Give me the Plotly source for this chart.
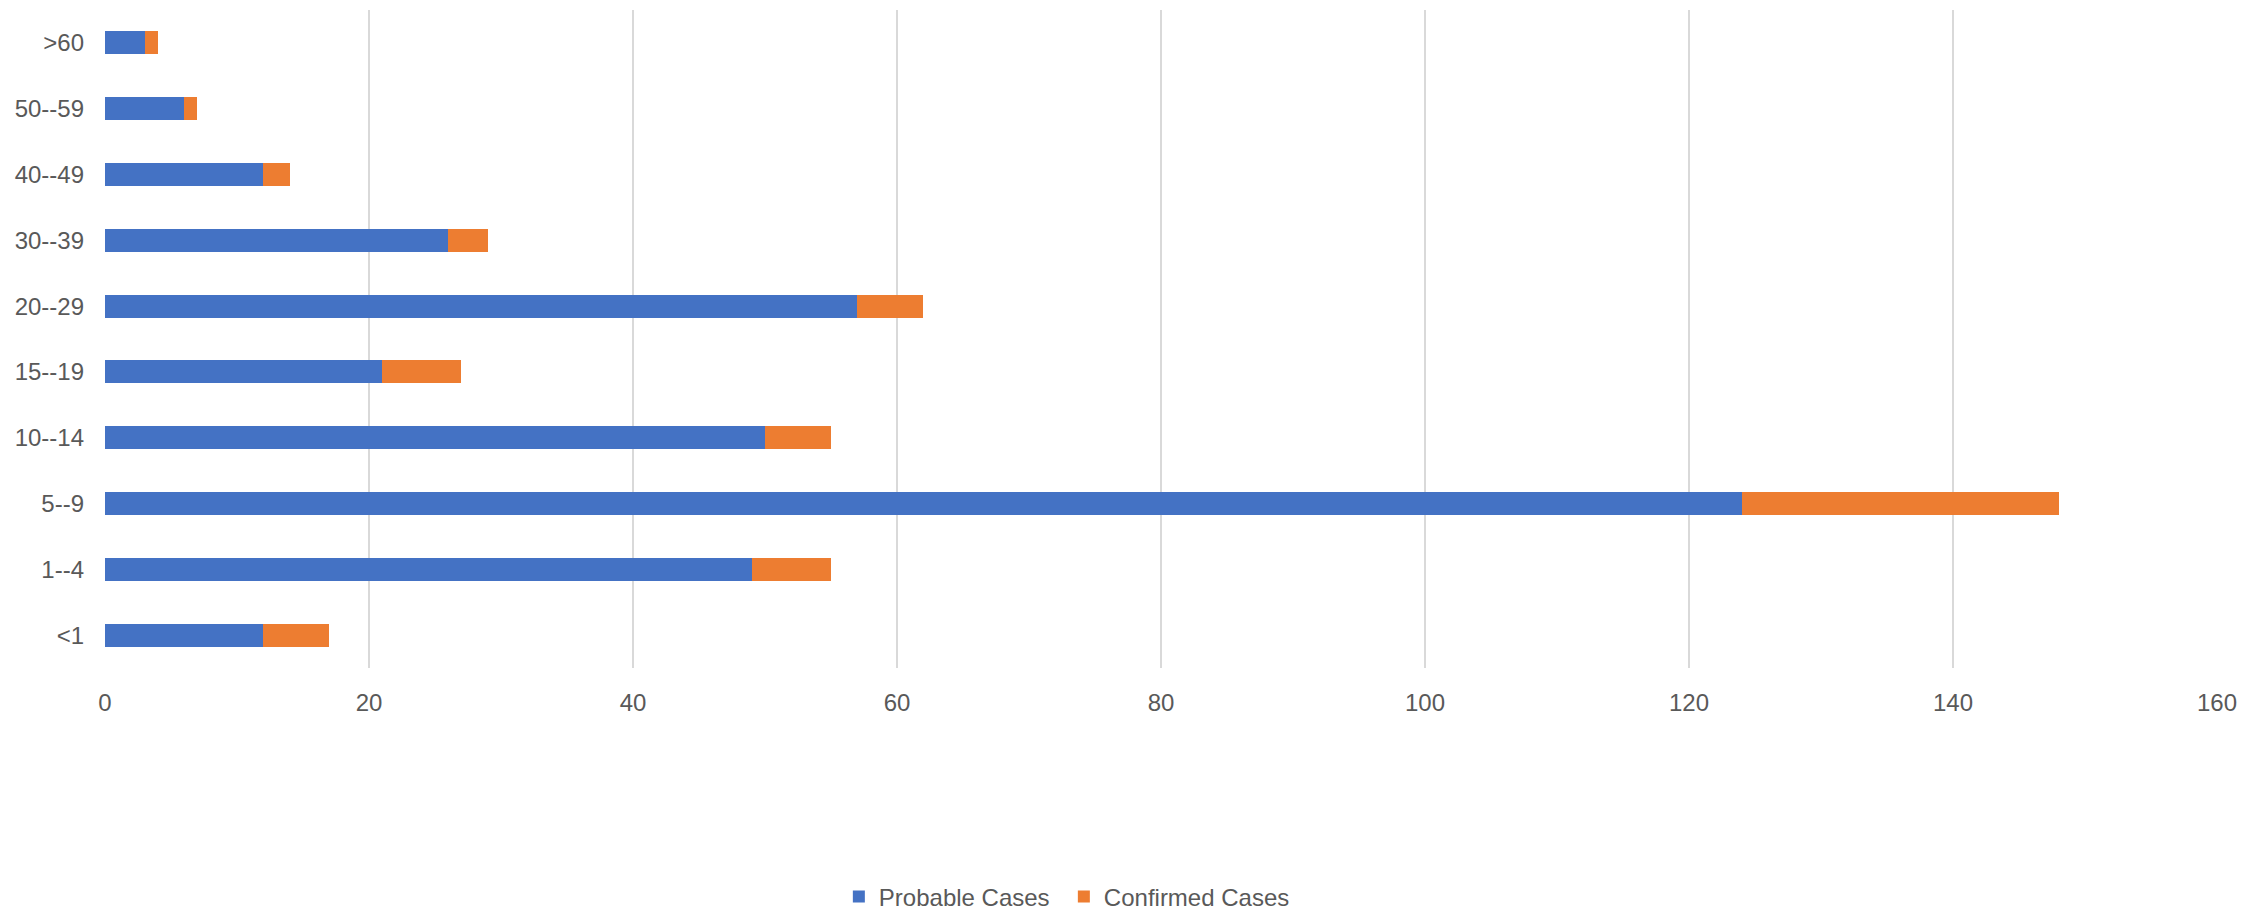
import plotly.graph_objects as go

categories = ["<1", "1--4", "5--9", "10--14", "15--19", "20--29", "30--39", "40--49", "50--59", ">60"]
probable = [12, 49, 124, 50, 21, 57, 26, 12, 6, 3]
confirmed = [5, 6, 24, 5, 6, 5, 3, 2, 1, 1]
x_ticks = [0, 20, 40, 60, 80, 100, 120, 140, 160]

FONT = "Liberation Sans, Arial, sans-serif"
GRAY = "#595959"

fig = go.Figure()
fig.add_trace(go.Bar(y=categories, x=probable, orientation="h", name="Probable Cases",
                     marker=dict(color="#4472C4", line=dict(width=0))))
fig.add_trace(go.Bar(y=categories, x=confirmed, orientation="h", name="Confirmed Cases",
                     marker=dict(color="#ED7D31", line=dict(width=0))))

fig.update_layout(
    width=2266, height=917,
    barmode="stack", bargap=0.65,
    paper_bgcolor="white", plot_bgcolor="white",
    margin=dict(l=105, r=49, t=10, b=249, autoexpand=False),
    font=dict(family=FONT, size=24, color=GRAY),
    legend=dict(orientation="h", x=0.454, xanchor="center", y=-0.348, yanchor="middle",
                font=dict(size=24, color=GRAY), traceorder="normal", itemwidth=30,
                entrywidth=180, entrywidthmode="pixels"),
    xaxis=dict(range=[0, 160], tickvals=x_ticks, showgrid=True, gridcolor="#d9d9d9",
               gridwidth=2, zeroline=False, showline=False, ticks="", automargin=False,
               tickfont=dict(size=24, color=GRAY), ticklabelstandoff=18),
    yaxis=dict(categoryorder="array", categoryarray=categories, showgrid=False,
               showline=False, ticks="", tickfont=dict(size=24, color=GRAY),
               automargin=False, ticklabelstandoff=20),
)

fig.write_html("out.html", config={"displayModeBar": False},
               post_script="document.body.style.margin='0';")
